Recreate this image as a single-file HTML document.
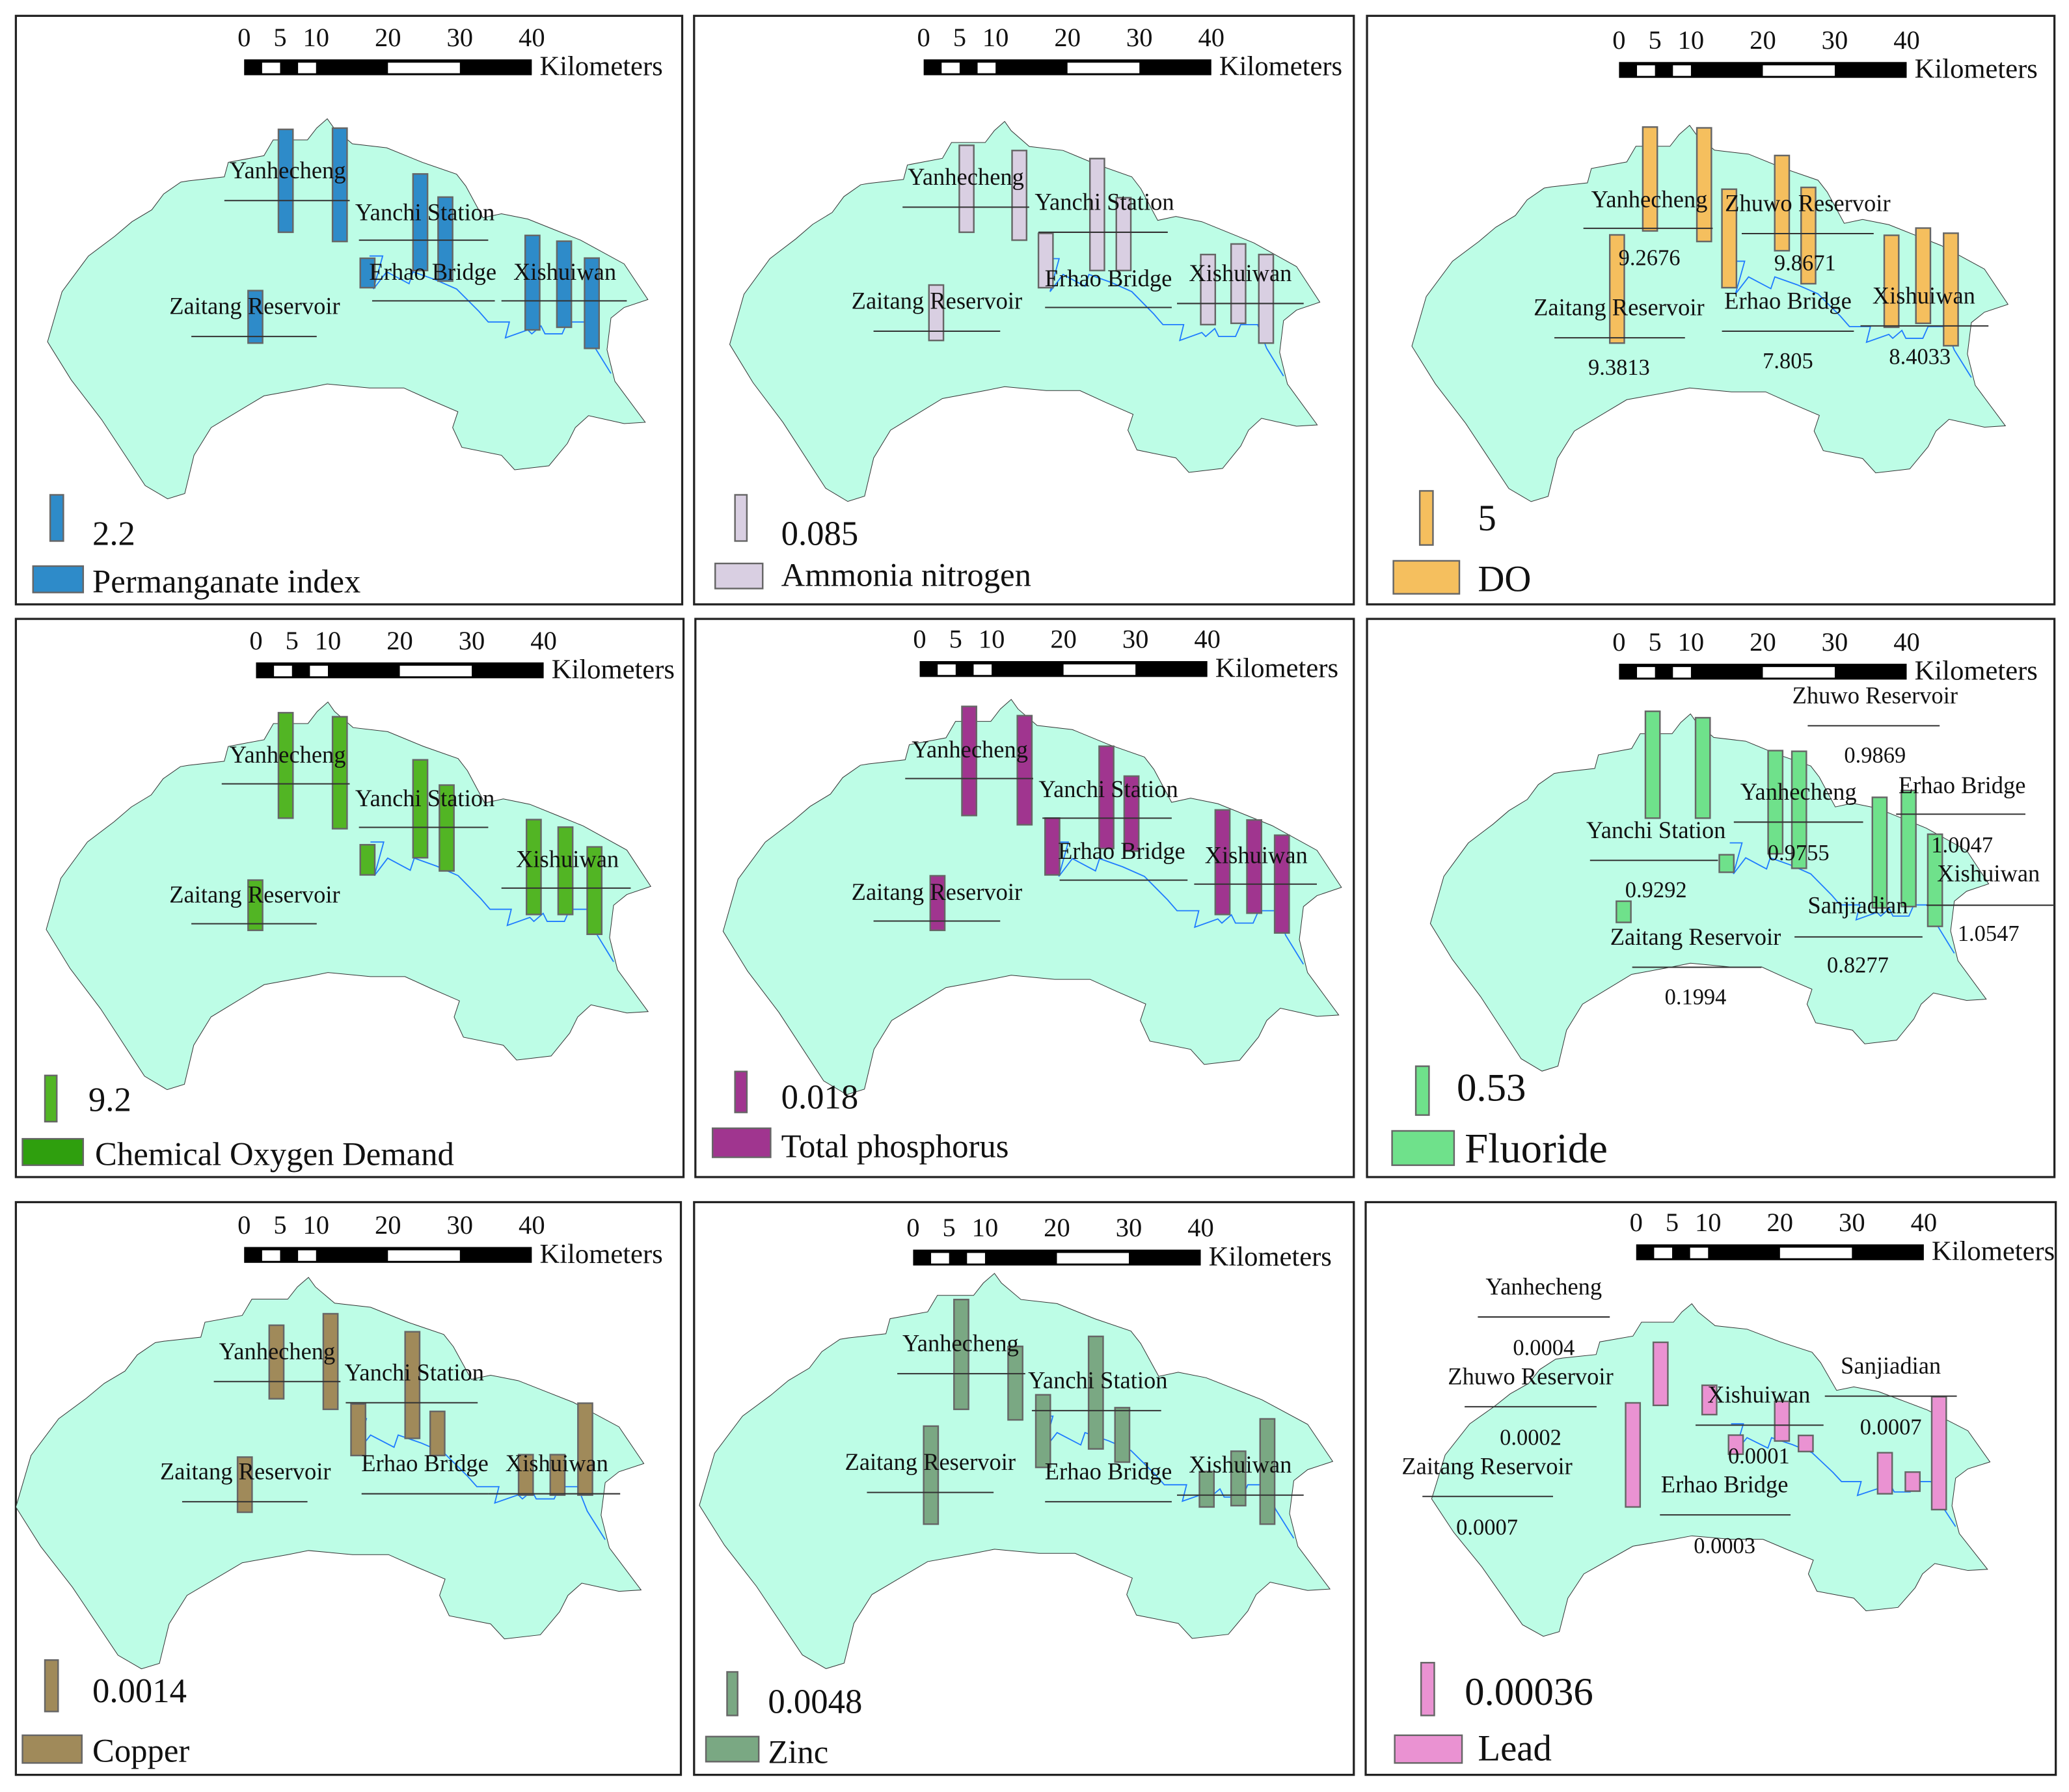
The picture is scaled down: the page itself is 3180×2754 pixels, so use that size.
<!DOCTYPE html>
<html><head><meta charset="utf-8"><style>
html,body{margin:0;padding:0;background:#fff}
svg{display:block}
text{font-family:"Liberation Serif",serif;fill:#111}
</style></head><body>
<svg id="fig" width="3180" height="2754" viewBox="0 0 1568 1358" xmlns="http://www.w3.org/2000/svg"></svg>
<script>
const p1Values=[4.9,5.4,4.6,4.0,1.4,4.5,4.1,4.3,2.5];
const p2Values=[0.160,0.165,0.206,0.134,0.100,0.129,0.146,0.163,0.102];
const p3Values=[9.6,10.5,8.8,8.9,9.1,10.0,8.5,8.8,10.4];
const p4Values=[21.0,22.3,19.5,17.1,6.0,18.9,17.4,17.4,10.0];
const p5Values=[0.048,0.048,0.045,0.033,0.025,0.046,0.041,0.043,0.024];
const p6Values=[1.16,1.09,1.12,1.27,0.19,1.20,1.26,1.00,0.23];
const p7Values=[0.0020,0.0026,0.0029,0.0012,0.0014,0.0011,0.0011,0.0025,0.0015];
const p8Values=[0.0121,0.0081,0.0124,0.0060,0.0080,0.0039,0.0060,0.0116,0.0108];
const p9Values=[0.00043,0.00071,0.00020,0.00013,0.00027,0.00011,0.00028,0.00013,0.00077];
const legendValues=[2.2,0.085,5,9.2,0.018,0.53,0.0014,0.0048,0.00036];
const legendLabels=["2.2","0.085","5","9.2","0.018","0.53","0.0014","0.0048","0.00036"];
const indicatorNames=["Permanganate index","Ammonia nitrogen","DO","Chemical Oxygen Demand","Total phosphorus","Fluoride","Copper","Zinc","Lead"];
const scaleTicks=["0","5","10","20","30","40"];

const NS="http://www.w3.org/2000/svg";
const svg=document.getElementById('fig');
function mk(tag,attrs,parent){const e=document.createElementNS(NS,tag);for(const k in attrs)e.setAttribute(k,attrs[k]);(parent||svg).appendChild(e);return e;}
function tx(s,x,y,size,anchor,parent){const t=mk('text',{x:x,y:y,'font-size':size,'text-anchor':anchor||'middle'},parent);t.textContent=s;return t;}

const shapePts="36,259 47,221 67,194 87,179 100,168 115,159 124,147 137,138 143,137 170,134 173,123 200,118 207,106 233,106 240,97 248,90 253,97 267,109 293,112 320,123 346,132 353,141 366,165 380,162 400,166 420,174 440,182 473,200 491,227 473,233 463,241 460,265 466,289 489,320 473,321 446,315 436,324 430,336 416,353 390,356 380,345 350,339 343,324 347,312 326,303 306,294 280,294 248,291 233,294 200,300 160,324 147,345 140,374 127,378 110,368 77,318 54,288";
const riverPts="280,194 290,194 283,219 293,206 310,215 313,206 330,212 346,219 363,236 370,244 386,244 383,256 400,250 403,253 410,247 413,253 426,253 430,244 443,244 450,262 463,283";

const panels=[
 {box:[12,12,505,446],map:[36,90,1,1],sb:[185,45],col:"#2e8bc9",vals:p1Values,lh:35,
  bx:[211,252,313,332,273,398,422,443,188],bb:[176,183,205,213,218,250,248,264,260],
  lab:[["Yanhecheng",218,135,170,265,152],["Yanchi Station",322,167,272,370,182],["Erhao Bridge",328,212,282,375,228],["Xishuiwan",428,212,380,475,228],["Zaitang Reservoir",193,238,145,240,255]],
  lg:{bar:[38,375,10],val:[70,413,26],rect:[25,429,38,20],name:[70,449,25]}},
 {box:[526,12,500,446],map:[553,92,0.983,1],sb:[700,45],col:"#d9cfe2",vals:p2Values,lh:35,
  bx:[727,767,826,846,787,910,933,954,704],bb:[176,182,205,205,218,246,245,260,258],
  lab:[["Yanhecheng",732,140,684,780,157],["Yanchi Station",837,159,787,885,176],["Erhao Bridge",840,217,792,888,233],["Xishuiwan",940,213,892,988,230],["Zaitang Reservoir",710,234,662,758,251]],
  lg:{bar:[557,375,9],val:[592,413,26],rect:[542,427,36,19],name:[592,444,25]}},
 {box:[1036,12,521,446],map:[1070,95,0.993,0.99],sb:[1227,47],col:"#f5bf5e",vals:p3Values,lh:41,
  bx:[1245,1286,1345,1365,1305,1220,1428,1452,1473],bb:[175,183,190,215,218,260,248,245,262],
  lab:[["Yanhecheng",1250,157,1200,1298,173],["Zhuwo Reservoir",1370,160,1320,1420,177],["Zaitang Reservoir",1227,239,1178,1277,256],["Erhao Bridge",1355,234,1305,1405,251],["Xishuiwan",1458,230,1410,1507,247]],
  nums:[["9.2676",1250,201],["9.8671",1368,205],["9.3813",1227,284],["7.805",1355,279],["8.4033",1455,276]],
  lg:{bar:[1076,372,10],val:[1120,402,28],rect:[1056,425,50,25],name:[1120,448,28]}},
 {box:[12,469,506,423],map:[35,532,1.007,1.02],sb:[194,502],col:"#52b524",vals:p4Values,lh:35,
  bx:[211,252,313,333,273,399,423,445,188],bb:[620,628,650,660,663,693,693,708,705],
  lab:[["Yanhecheng",218,578,168,265,594],["Yanchi Station",322,611,272,370,627],["Xishuiwan",430,657,380,478,673],["Zaitang Reservoir",193,684,145,240,700]],
  lg:{bar:[34,815,9],val:[67,842,26],rect:[17,863,46,20],name:[72,883,25],rectCol:"#2f9f0e"}},
 {box:[527,469,499,423],map:[548,530,1.03,1.04],sb:[697,501],col:"#a0358f",vals:p5Values,lh:31,
  bx:[729,771,833,852,792,921,945,966,705],bb:[618,625,643,645,663,693,692,707,705],
  lab:[["Yanhecheng",735,574,686,783,590],["Yanchi Station",840,604,790,888,620],["Erhao Bridge",850,651,803,900,667],["Xishuiwan",952,654,905,998,670],["Zaitang Reservoir",710,682,662,758,698]],
  lg:{bar:[557,812,9],val:[592,840,26],rect:[540,855,44,22],name:[592,877,25]}},
 {box:[1036,469,521,423],map:[1084,541,0.93,0.94],sb:[1227,503],col:"#6fe18b",vals:p6Values,lh:37,
  bx:[1247,1285,1340,1358,1303,1419,1441,1461,1225],bb:[620,620,647,658,661,688,687,702,699],
  lab:[["Zhuwo Reservoir",1421,533,1370,1470,550],["Yanhecheng",1363,606,1314,1412,623],["Erhao Bridge",1487,601,1437,1535,617],["Yanchi Station",1255,635,1205,1302,652],["Xishuiwan",1507,668,1460,1557,686],["Sanjiadian",1408,692,1360,1457,710],["Zaitang Reservoir",1285,716,1237,1335,733]],
  nums:[["0.9869",1421,578],["0.9755",1363,652],["1.0047",1487,646],["0.9292",1255,680],["1.0547",1507,713],["0.8277",1408,737],["0.1994",1285,761]],
  lg:{bar:[1073,808,10],val:[1104,834,30],rect:[1055,857,47,26],name:[1110,881,32]}},
 {box:[12,911,504,434],map:[12,968,1.046,1.03],sb:[185,945],col:"#a08a5a",vals:p7Values,lh:39,
  bx:[204,245,307,326,266,393,417,438,180],bb:[1060,1068,1090,1103,1103,1133,1133,1133,1146],
  lab:[["Yanhecheng",210,1030,162,258,1047],["Yanchi Station",314,1046,262,362,1063],["Erhao Bridge",322,1115,274,370,1132],["Xishuiwan",422,1115,370,470,1132],["Zaitang Reservoir",186,1121,138,233,1138]],
  lg:{bar:[34,1258,10],val:[70,1290,26],rect:[17,1315,45,21],name:[70,1335,25]}},
 {box:[526,911,500,434],map:[530,965,1.055,1.04],sb:[692,947],col:"#7aa883",vals:p8Values,lh:33,
  bx:[723,764,825,845,785,909,933,955,700],bb:[1068,1076,1098,1108,1112,1142,1141,1155,1155],
  lab:[["Yanhecheng",728,1024,680,777,1041],["Yanchi Station",832,1052,782,880,1069],["Erhao Bridge",840,1121,792,888,1138],["Xishuiwan",940,1116,892,988,1133],["Zaitang Reservoir",705,1114,657,753,1131]],
  lg:{bar:[551,1267,8],val:[582,1298,26],rect:[535,1316,40,19],name:[582,1336,25]}},
 {box:[1035,911,523,434],map:[1085,988,0.93,0.875],sb:[1240,943],col:"#ea92d2",vals:p9Values,lh:40,
  bx:[1253,1232,1290,1310,1345,1363,1423,1444,1464],bb:[1065,1142,1072,1102,1092,1100,1132,1130,1144],
  lab:[["Yanhecheng",1170,981,1120,1220,998],["Zhuwo Reservoir",1160,1049,1110,1210,1066],["Xishuiwan",1333,1063,1285,1382,1080],["Sanjiadian",1433,1041,1383,1483,1058],["Zaitang Reservoir",1127,1117,1078,1177,1134],["Erhao Bridge",1307,1131,1258,1357,1148]],
  nums:[["0.0004",1170,1027],["0.0002",1160,1095],["0.0001",1333,1109],["0.0007",1433,1087],["0.0007",1127,1163],["0.0003",1307,1177]],
  lg:{bar:[1077,1260,10],val:[1110,1292,30],rect:[1057,1315,51,21],name:[1120,1334,28]}}
];

panels.forEach((p,i)=>{
  const g=mk('g',{});
  
  
  const b=mk('rect',{x:p.box[0],y:p.box[1],width:p.box[2],height:p.box[3],fill:'#fff',stroke:'#222','stroke-width':1.6},g);
  
  
  const [X0,Y0,sx,sy]=p.map;
  const mg=mk('g',{transform:`translate(${X0-36*sx},${Y0-90*sy}) scale(${sx},${sy})`},g);
  const sh=mk('polygon',{points:shapePts,fill:'#bdfde6',stroke:'#333','stroke-width':1,'vector-effect':'non-scaling-stroke'},mg);
  
  
  const rv=mk('polyline',{points:riverPts,fill:'none',stroke:'#1e7bff','stroke-width':1.8,'vector-effect':'non-scaling-stroke'},mg);
  
  
  const sg=mk('g',{},g);
  
  
  const s0=p.sb[0],sy0=p.sb[1],sw=218,k=sw/40;
  mk('rect',{x:s0,y:sy0,width:sw,height:12,fill:'#000'},sg);
  [[2.5,5],[7.5,10],[20,30]].forEach(w=>mk('rect',{x:s0+w[0]*k,y:sy0+2.5,width:(w[1]-w[0])*k,height:8,fill:'#fff'},sg));
  const tv=[0,5,10,20,30,40];
  scaleTicks.forEach((t,j)=>tx(t,s0+tv[j]*k,sy0-10,20,'middle',sg));
  tx('Kilometers',s0+sw+6,sy0+12,21,'start',sg);
  // bars
  const lv=legendValues[i];
  const h=v=>v/lv*p.lh;
  p.vals.forEach((v,j)=>{
    const r=mk('rect',{x:p.bx[j],y:p.bb[j]-h(v),width:11,height:h(v),fill:p.col,stroke:'#666','stroke-width':1.2},g);
    
    
  });
  // labels on top of bars
  p.lab.forEach(l=>{
    mk('line',{x1:l[3],x2:l[4],y1:l[5],y2:l[5],stroke:'#333','stroke-width':1},g);
    const t=tx(l[0],l[1],l[2],18,'middle',g);
    
    
  });
  (p.nums||[]).forEach(n=>{
    const t=tx(n[0],n[1],n[2],17,'middle',g);
    
    
  });
  const L=p.lg;
  const lb=mk('rect',{x:L.bar[0],y:L.bar[1],width:L.bar[2],height:p.lh,fill:p.col,stroke:'#666','stroke-width':1.2},g);
  
  
  const lt=tx(legendLabels[i],L.val[0],L.val[1],L.val[2],'start',g);
  
  
  const lr=mk('rect',{x:L.rect[0],y:L.rect[1],width:L.rect[2],height:L.rect[3],fill:L.rectCol||p.col,stroke:'#666','stroke-width':1.2},g);
  
  
  const ln=tx(indicatorNames[i],L.name[0],L.name[1],L.name[2],'start',g);
  
  
});
</script>
</body></html>
